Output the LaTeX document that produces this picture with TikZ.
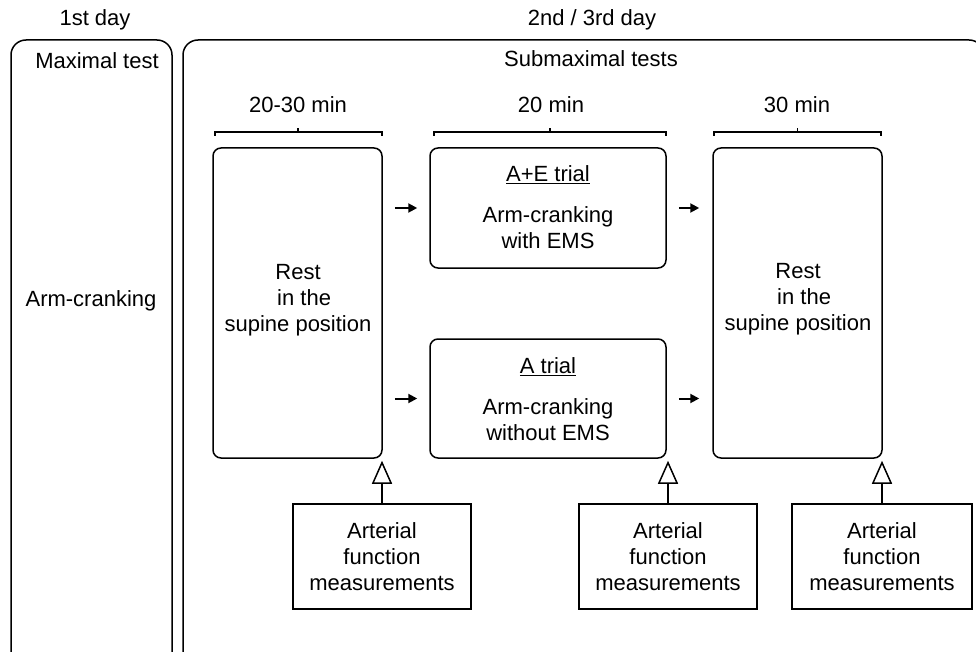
\documentclass[tikz,border=0pt]{standalone}
\usepackage{fontspec}
\setmainfont{Liberation Sans}
\usetikzlibrary{arrows.meta,calc}
\begin{document}
\begin{tikzpicture}[x=1pt,y=-1pt,
  every node/.style={font=\fontsize{22}{26}\selectfont, inner sep=0pt, align=center},
  bigbox/.style={draw, line width=1.5pt, rounded corners=15pt},
  stage/.style={draw, line width=1.5pt, rounded corners=8pt},
  meas/.style={draw, line width=1.5pt},
  txt/.style={},
  brace/.style={line width=1.3pt},
  flow/.style={-{Triangle[length=9pt,width=9pt]}, line width=2pt},
  up/.style={-{Triangle[open,length=23pt,width=20pt,line width=1.5pt]}, line width=2pt, shorten >=2pt}]
\useasboundingbox (0,0) rectangle (976,652);
\clip (0,0) rectangle (976,652);
% headers
\node[txt] (h1) at (95,20) {1st day};
\node[txt] (h2) at (592,20) {2nd / 3rd day};
% big boxes
\node[bigbox, minimum width=161pt, minimum height=640pt] (day1) at (91.5,360) {};
\node[bigbox, minimum width=801pt, minimum height=640pt] (day2) at (583.5,360) {};
\node[txt] (maxt) at (97,61) {Maximal test};
\node[txt] (arm1) at (91,301) {Arm-cranking};
\node[txt] (subt) at (591,59) {Submaximal tests};
% durations
\node[txt] (d1) at (298,105) {20-30 min};
\node[txt] (d2) at (551,105) {20 min};
\node[txt] (d3) at (797,105) {30 min};
% stage boxes
\node[stage, minimum width=169pt, minimum height=310pt] (rest1) at (297.5,303) {};
\node[txt] (rest1t) at (298,300) {Rest\\\ \ in the\\supine position};
\node[stage, minimum width=236pt, minimum height=120pt] (ae) at (548,208) {};
\node[txt] (aet) at (548,207) {\underline{A+E trial}\\[15pt]Arm-cranking\\with EMS};
\node[stage, minimum width=236pt, minimum height=119pt] (a) at (548,398.5) {};
\node[txt] (at) at (548,399) {\underline{A trial}\\[15pt]Arm-cranking\\without EMS};
\node[stage, minimum width=169pt, minimum height=310pt] (rest2) at (797.5,303) {};
\node[txt] (rest2t) at (798,299) {Rest\\\ \ in the\\supine position};
% braces
\foreach \n/\xa/\xb in {b1/215/382, b2/434/666, b3/714/881}{
  \coordinate (\n l) at (\xa,136);
  \coordinate (\n r) at (\xb,136);
  \draw[brace] (\n l) -- ++(0,-4) -- ($(\n r)+(0,-4)$) -- (\n r);
}
\draw[brace] (298,132) -- (298,128);
\draw[brace] (550,132) -- (550,128);
\draw[brace] (797.5,132) -- (797.5,128);
% flow arrows
\draw[flow] ([xshift=12pt]rest1.east |- ae.west) -- ([xshift=-12pt]ae.west);
\draw[flow] ([xshift=12pt]rest1.east |- a.west) -- ([xshift=-12pt]a.west);
\draw[flow] ([xshift=12pt]ae.east) -- ([xshift=-13pt]rest2.west |- ae.east);
\draw[flow] ([xshift=12pt]a.east) -- ([xshift=-13pt]rest2.west |- a.east);
% measurement boxes
\node[meas, minimum width=178pt, minimum height=105pt] (m1) at (382,556.5) {Arterial\\function\\measurements};
\node[meas, minimum width=178pt, minimum height=105pt] (m2) at (668,556.5) {Arterial\\function\\measurements};
\node[meas, minimum width=180pt, minimum height=105pt] (m3) at (882,556.5) {Arterial\\function\\measurements};
\draw[up] (m1.north) -- (m1.north |- rest1.south);
\draw[up] (m2.north) -- (m2.north |- a.south);
\draw[up] (m3.north) -- (m3.north |- rest2.south);
\end{tikzpicture}
\end{document}
